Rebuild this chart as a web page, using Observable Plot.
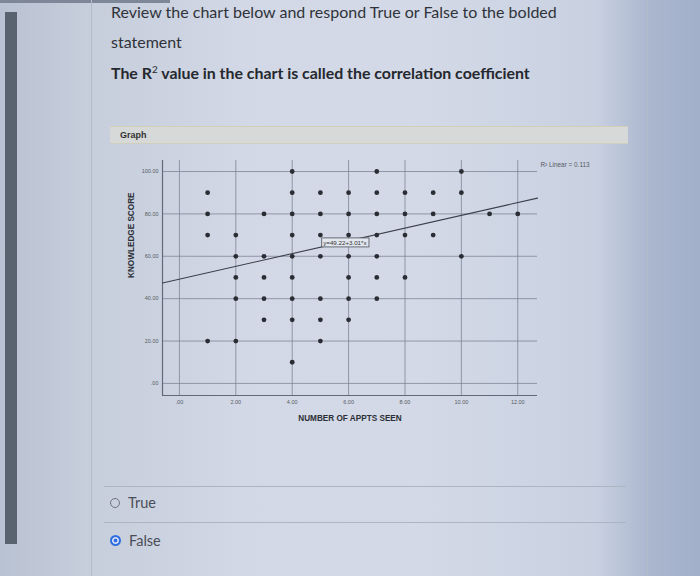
<!DOCTYPE html>
<html>
<head>
<meta charset="utf-8">
<script src="https://cdn.jsdelivr.net/npm/d3@7"></script>
<script src="https://cdn.jsdelivr.net/npm/@observablehq/plot@0.6"></script>
<style>
  html, body { margin: 0; padding: 0; }
  body {
    width: 700px; height: 576px; overflow: hidden; position: relative;
    background: linear-gradient(to right, #b9c2d2 0%, #c6cddb 12%, #d2d8e5 35%, #d3d9e6 60%, #c9d1e1 85%, #aab6ce 93%, #a3b0ca 100%);
    font-family: Lato, "Open Sans", sans-serif; color: #2d3038;
  }
  .strip { position: absolute; left: 5px; top: 12px; width: 12px; height: 532px; background: #59636f; }
  .topbar { position: absolute; left: 0; top: 0; width: 170px; height: 3px; background: #7d8797; }
  .vline { position: absolute; top: 0; width: 1px; height: 576px; background: #b3bbc9; }
  .q { position: absolute; left: 111px; font-size: 16px; color: #30333a; white-space: nowrap; }
  .bold { font-weight: 700; color: #25282e; font-size: 15.9px; }
  .bar { position: absolute; left: 110px; top: 126px; width: 518px; height: 16px;
         background: #d7d9d8; border-top: 1.5px solid #d2cfb6; border-bottom: 1px solid #d0cebe; }
  .bar span { position: absolute; left: 10px; top: 3px; font: bold 9px "Liberation Sans", Arial, sans-serif; color: #333; }
  .hr { position: absolute; left: 104px; width: 522px; height: 1px; background: #aeb5c2; }
  .opt { position: absolute; left: 110px; font-size: 14.5px; color: #4a4e57; display: flex; align-items: center; }
  .radio { width: 10px; height: 10px; border-radius: 50%; border: 1.2px solid #6f7580; margin-right: 8px; box-sizing: border-box; }
  .radio.on { border: 2.5px solid #2f6fe0; background: #2f6fe0; box-shadow: inset 0 0 0 1.5px #e8eefc; width: 11px; height: 11px; }
  #chart { position: absolute; left: 0; top: 150px; }
</style>
</head>
<body>
<div class="topbar"></div>
<div class="strip"></div>
<div class="vline" style="left:91px"></div>
<div class="vline" style="left:647px"></div>
<div class="q" style="top:2px">Review the chart below and respond True or False to the bolded</div>
<div class="q" style="top:32px">statement</div>
<div class="q bold" style="top:63px">The R<sup style="font-size:10px;font-weight:400">2</sup> value in the chart is called the correlation coefficient</div>
<div class="bar"><span>Graph</span></div>
<div id="chart"></div>
<div class="hr" style="top:486px"></div>
<div class="opt" style="top:494px"><div class="radio"></div>True</div>
<div class="hr" style="top:522px"></div>
<div class="opt" style="top:532px"><div class="radio on"></div>False</div>
<script>
// ---- data ----
const appts  = [1,1,1,1, 2,2,2,2,2, 3,3,3,3,3, 4,4,4,4,4,4,4,4,4, 5,5,5,5,5,5,5, 6,6,6,6,6,6,6, 7,7,7,7,7,7,7, 8,8,8,8, 9,9,9, 10,10,10, 11, 12];
const scores = [90,80,70,20, 70,60,50,40,20, 80,60,50,40,30, 100,90,80,70,60,50,40,30,10, 90,80,70,60,40,30,20, 90,80,70,60,50,40,30, 100,90,80,70,60,50,40, 90,80,70,50, 90,80,70, 100,90,60, 80, 80];
const xTicks = [0, 2, 4, 6, 8, 10, 12];
const yTicks = [0, 20, 40, 60, 80, 100];
const xDomain = [-0.6, 12.7];
const yDomain = [-5.7, 105.2];
const intercept = 49.22;
const slope = 3.01;
const eqText = "y=49.22+3.01*x";
const eqPos = [5.1, 66.3];
const r2Text = "R\u00b2 Linear = 0.113";
const xLabel = "NUMBER OF APPTS SEEN";
const yLabel = "KNOWLEDGE SCORE";

const points = appts.map((a, i) => ({a, s: scores[i]}));
const fit = xDomain.map(x => ({x, y: intercept + slope * x}));
const fmt = d => d === 0 ? ".00" : d.toFixed(2);

const plot = Plot.plot({
  width: 700, height: 290,
  marginLeft: 162, marginRight: 163, marginTop: 10, marginBottom: 45,
  x: {domain: xDomain},
  y: {domain: yDomain},
  style: {background: "transparent", fontFamily: "'Liberation Sans', Arial, sans-serif", overflow: "visible"},
  marks: [
    Plot.gridY(yTicks, {stroke: "#7a8090", strokeOpacity: 0.75, strokeWidth: 1}),
    Plot.gridX(xTicks, {stroke: "#7a8090", strokeOpacity: 0.75, strokeWidth: 1}),
    Plot.ruleX([xDomain[0]], {stroke: "#626978", strokeWidth: 1.2}),
    Plot.ruleY([yDomain[0]], {stroke: "#626978", strokeWidth: 1.2}),
    Plot.axisX(xTicks, {tickSize: 0, tickPadding: 5, fontSize: 5.5, tickFormat: fmt, label: null, fill: "#555a64"}),
    Plot.axisY(yTicks, {tickSize: 0, tickPadding: 4, fontSize: 5.5, tickFormat: fmt, label: null, fill: "#555a64"}),
    Plot.line(fit, {x: "x", y: "y", stroke: "#3a3f4a", strokeWidth: 1.1}),
    Plot.dot(points, {x: "a", y: "s", r: 2.4, fill: "#2a2d34", stroke: "none"}),
    Plot.text([eqText], {x: eqPos[0], y: eqPos[1], text: d => d, textAnchor: "start", fontSize: 6.2, fill: "#333"}),
    Plot.text([r2Text], {frameAnchor: "top-right", text: d => d, textAnchor: "start", dx: 3, dy: 2, fontSize: 6.4, fill: "#555a64"}),
    Plot.text([xLabel], {frameAnchor: "bottom", text: d => d, dy: 25, fontSize: 8.2, fontWeight: "bold", fill: "#2c2f36"}),
    Plot.text([yLabel], {frameAnchor: "left", text: d => d, rotate: -90, dx: -31, fontSize: 8.2, fontWeight: "bold", fill: "#2c2f36"})
  ]
});
document.getElementById("chart").appendChild(plot);

// outline box around the equation label
const eqNode = Array.from(plot.querySelectorAll("text")).find(t => t.textContent === eqText);
if (eqNode) {
  const bb = eqNode.getBBox();
  const rect = document.createElementNS("http://www.w3.org/2000/svg", "rect");
  rect.setAttribute("x", bb.x - 1.5);
  rect.setAttribute("y", bb.y - 1);
  rect.setAttribute("width", bb.width + 3);
  rect.setAttribute("height", bb.height + 2);
  rect.setAttribute("fill", "#e2e6ee");
  rect.setAttribute("stroke", "#4a4f5a");
  rect.setAttribute("stroke-width", "0.8");
  const tr = eqNode.getAttribute("transform");
  if (tr) rect.setAttribute("transform", tr);
  eqNode.parentNode.insertBefore(rect, eqNode);
}
</script>
</body>
</html>
